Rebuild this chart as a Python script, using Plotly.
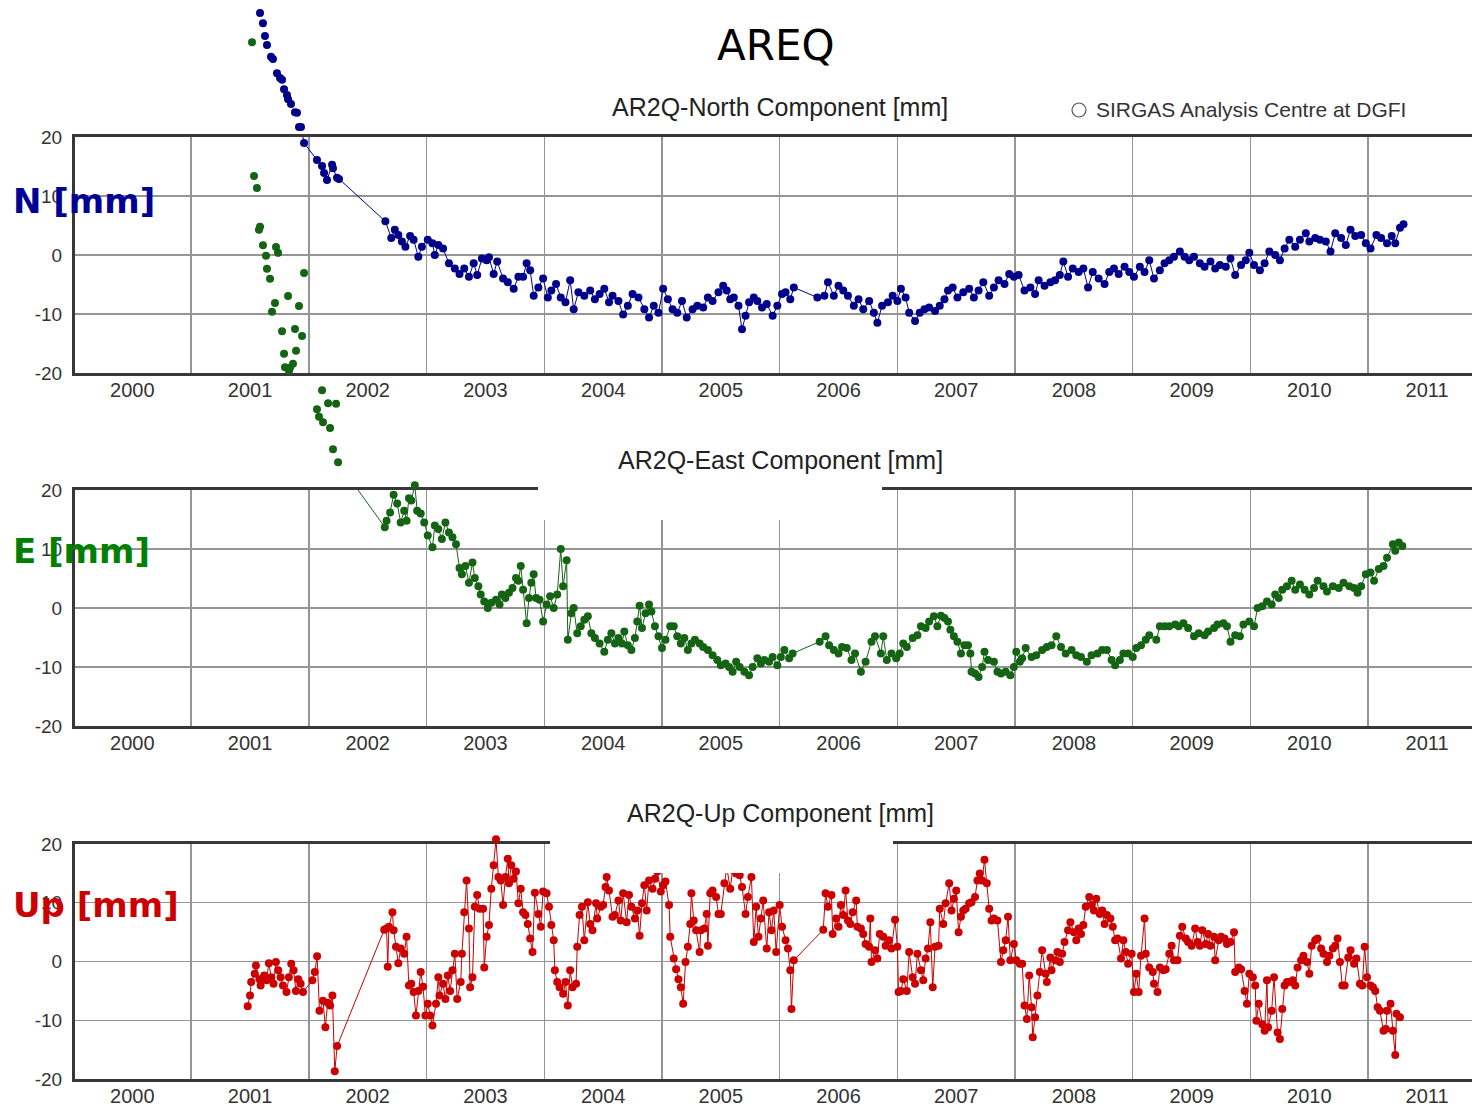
import plotly.graph_objects as go

# ---------------------------------------------------------------------------
# AREQ station, AR2Q solution: weekly coordinate residuals (decimal year, mm)
# ---------------------------------------------------------------------------
north_pts = [
    (2001.085, 41.0), (2001.110, 39.3), (2001.127, 37.1), (2001.144, 35.6), (2001.178, 33.6),
    (2001.195, 33.2), (2001.229, 30.8), (2001.255, 30.0), (2001.272, 29.7), (2001.289, 28.1),
    (2001.314, 27.1), (2001.323, 26.4), (2001.348, 25.6), (2001.382, 24.2), (2001.399, 24.1),
    (2001.416, 21.7), (2001.433, 21.7), (2001.459, 19.0), (2001.569, 16.1), (2001.612, 15.1),
    (2001.629, 13.9), (2001.654, 12.7), (2001.697, 15.3), (2001.705, 14.7), (2001.739, 13.1),
    (2001.756, 12.9),
    (2002.15, 5.7), (2002.20, 2.9), (2002.23, 4.3), (2002.26, 3.4), (2002.29, 2.3),
    (2002.32, 1.4), (2002.36, 3.2), (2002.39, 2.6), (2002.43, -0.3), (2002.46, 1.4),
    (2002.51, 2.6), (2002.55, 2.0), (2002.57, 0.0), (2002.60, 1.7), (2002.64, 1.1),
    (2002.69, -1.4), (2002.74, -2.3), (2002.78, -3.2), (2002.82, -2.3), (2002.86, -3.7),
    (2002.90, -1.4), (2002.93, -3.4), (2002.97, -0.6), (2003.01, -0.9), (2003.03, -0.4),
    (2003.07, -3.2), (2003.10, -1.1), (2003.15, -4.0), (2003.19, -4.6), (2003.24, -5.7),
    (2003.28, -3.7), (2003.32, -3.7), (2003.35, -1.4), (2003.38, -2.6), (2003.41, -6.9),
    (2003.45, -5.5), (2003.49, -4.0), (2003.53, -7.2), (2003.56, -6.0), (2003.60, -4.9),
    (2003.64, -7.2), (2003.68, -8.0), (2003.72, -4.3), (2003.75, -9.2), (2003.79, -6.3),
    (2003.84, -6.9), (2003.89, -6.0), (2003.93, -7.5), (2003.97, -6.6), (2004.01, -5.7),
    (2004.05, -8.0), (2004.08, -6.9), (2004.13, -7.8), (2004.17, -10.1), (2004.21, -8.6),
    (2004.25, -6.6), (2004.30, -7.2), (2004.35, -9.2), (2004.39, -10.6), (2004.43, -8.6),
    (2004.47, -9.8), (2004.51, -5.7), (2004.55, -7.5), (2004.59, -9.2), (2004.63, -9.8),
    (2004.67, -7.8), (2004.71, -10.6), (2004.76, -9.2), (2004.80, -8.6), (2004.85, -8.9),
    (2004.89, -7.2), (2004.93, -7.8), (2004.98, -6.3), (2005.02, -5.2), (2005.05, -6.0),
    (2005.08, -7.5), (2005.11, -7.2), (2005.15, -8.6), (2005.18, -12.6), (2005.21, -10.3),
    (2005.24, -8.0), (2005.28, -7.2), (2005.31, -7.8), (2005.35, -8.9), (2005.39, -8.3),
    (2005.44, -10.3), (2005.48, -8.6), (2005.52, -6.6), (2005.55, -6.3), (2005.59, -7.5),
    (2005.62, -5.5), (2005.82, -7.2), (2005.88, -6.9), (2005.91, -4.6), (2005.96, -6.9),
    (2006.00, -5.2), (2006.04, -6.0), (2006.08, -6.9), (2006.13, -8.6), (2006.17, -7.5),
    (2006.21, -9.2), (2006.26, -7.8), (2006.30, -9.8), (2006.33, -11.5), (2006.37, -8.6),
    (2006.42, -8.0), (2006.46, -6.9), (2006.50, -7.8), (2006.53, -5.7), (2006.57, -7.2),
    (2006.60, -9.8), (2006.65, -11.2), (2006.69, -9.8), (2006.73, -9.2), (2006.77, -8.9),
    (2006.82, -9.5), (2006.86, -8.6), (2006.90, -7.5), (2006.93, -6.0), (2006.97, -5.5),
    (2007.01, -7.2), (2007.06, -6.3), (2007.11, -5.7), (2007.15, -7.2), (2007.19, -6.0),
    (2007.23, -4.6), (2007.28, -6.9), (2007.32, -5.5), (2007.36, -4.3), (2007.41, -4.9),
    (2007.45, -3.2), (2007.49, -3.7), (2007.53, -3.4), (2007.58, -6.0), (2007.63, -5.5),
    (2007.67, -6.6), (2007.70, -4.3), (2007.75, -5.2), (2007.80, -4.6), (2007.84, -4.3),
    (2007.88, -3.4), (2007.91, -1.1), (2007.95, -3.7), (2007.99, -2.3), (2008.04, -2.9),
    (2008.08, -2.3), (2008.12, -5.5), (2008.16, -2.9), (2008.21, -4.0), (2008.26, -4.9),
    (2008.30, -2.9), (2008.34, -2.3), (2008.38, -3.2), (2008.43, -2.0), (2008.47, -2.9),
    (2008.51, -3.7), (2008.56, -2.0), (2008.60, -2.9), (2008.64, -0.9), (2008.68, -4.0),
    (2008.73, -2.6), (2008.77, -1.4), (2008.81, -0.9), (2008.85, -0.3), (2008.90, 0.6),
    (2008.94, -0.3), (2008.98, -0.9), (2009.02, -0.3), (2009.07, -1.4), (2009.11, -2.0),
    (2009.16, -1.1), (2009.20, -2.3), (2009.24, -1.7), (2009.29, -2.0), (2009.33, -0.6),
    (2009.37, -3.4), (2009.42, -1.7), (2009.46, -0.9), (2009.49, 0.4), (2009.53, -1.7),
    (2009.58, -2.6), (2009.62, -1.4), (2009.66, 0.6), (2009.71, 0.0), (2009.75, -0.9),
    (2009.79, 1.1), (2009.83, 2.6), (2009.88, 1.4), (2009.92, 2.6), (2009.97, 3.7),
    (2010.00, 2.3), (2010.05, 2.9), (2010.09, 2.6), (2010.14, 2.3), (2010.18, 0.6),
    (2010.22, 3.7), (2010.27, 2.9), (2010.31, 1.7), (2010.35, 4.3), (2010.39, 3.2),
    (2010.44, 3.4), (2010.48, 2.0), (2010.52, 1.1), (2010.57, 3.4), (2010.61, 2.9),
    (2010.66, 2.0), (2010.70, 3.2), (2010.73, 2.0), (2010.77, 4.6), (2010.80, 5.2),
]

east_pts = [
    (2001.017, 95.9), (2001.034, 73.2), (2001.059, 71.2), (2001.076, 64.1), (2001.085, 64.6),
    (2001.110, 61.5), (2001.136, 59.7), (2001.144, 57.5), (2001.170, 55.8), (2001.187, 50.2),
    (2001.212, 51.7), (2001.221, 61.2), (2001.238, 60.2), (2001.272, 46.9), (2001.289, 43.1),
    (2001.297, 40.8), (2001.323, 52.9), (2001.331, 40.2), (2001.340, 40.7), (2001.365, 41.4),
    (2001.382, 47.3), (2001.391, 43.6), (2001.416, 51.2), (2001.442, 46.1), (2001.459, 56.8),
    (2001.569, 33.7), (2001.586, 32.4), (2001.612, 36.9), (2001.620, 31.5), (2001.663, 34.7),
    (2001.680, 30.5), (2001.705, 26.9), (2001.731, 34.6), (2001.748, 24.7),
    (2002.145, 13.7), (2002.16, 14.8), (2002.19, 16.2), (2002.22, 19.2), (2002.25, 17.7),
    (2002.28, 14.5), (2002.31, 16.5), (2002.33, 14.8), (2002.35, 18.6), (2002.37, 18.2),
    (2002.40, 20.8), (2002.42, 16.5), (2002.45, 16.0), (2002.48, 14.5), (2002.51, 12.3),
    (2002.55, 10.3), (2002.57, 14.0), (2002.60, 13.4), (2002.63, 11.7), (2002.66, 14.5),
    (2002.69, 12.8), (2002.72, 12.0), (2002.75, 10.8), (2002.78, 6.8), (2002.80, 5.7),
    (2002.83, 7.1), (2002.86, 4.3), (2002.89, 7.7), (2002.91, 5.1), (2002.94, 3.7),
    (2002.96, 2.3), (2002.99, 1.1), (2003.02, 0.0), (2003.05, 0.9), (2003.09, 1.4),
    (2003.12, 0.6), (2003.14, 2.3), (2003.17, 1.7), (2003.20, 2.6), (2003.23, 3.4),
    (2003.26, 5.1), (2003.28, 4.6), (2003.30, 7.1), (2003.32, 3.1), (2003.35, -2.6),
    (2003.37, 1.7), (2003.39, 4.3), (2003.41, 5.7), (2003.43, 1.7), (2003.46, 1.4),
    (2003.49, -2.3), (2003.52, 0.6), (2003.55, 2.0), (2003.58, 0.0), (2003.61, 2.3),
    (2003.64, 10.0), (2003.66, 3.7), (2003.69, 8.1), (2003.70, -5.4), (2003.73, -0.9),
    (2003.75, 0.0), (2003.78, -4.3), (2003.81, -3.1), (2003.84, -2.0), (2003.87, -1.4),
    (2003.90, -4.3), (2003.93, -5.1), (2003.97, -6.0), (2004.01, -7.4), (2004.04, -5.4),
    (2004.07, -4.3), (2004.10, -6.0), (2004.13, -5.1), (2004.16, -6.0), (2004.18, -4.0),
    (2004.21, -6.3), (2004.24, -7.1), (2004.27, -5.1), (2004.29, -2.3), (2004.31, 0.4),
    (2004.33, -3.4), (2004.36, -0.9), (2004.39, 0.6), (2004.41, -0.6), (2004.44, -3.1),
    (2004.47, -4.8), (2004.50, -6.8), (2004.53, -5.4), (2004.57, -3.1), (2004.60, -3.1),
    (2004.63, -4.8), (2004.66, -6.0), (2004.69, -5.1), (2004.72, -7.1), (2004.75, -6.0),
    (2004.78, -5.4), (2004.82, -6.0), (2004.85, -6.6), (2004.89, -7.1), (2004.93, -8.0),
    (2004.97, -8.8), (2005.00, -9.7), (2005.04, -9.4), (2005.07, -10.0), (2005.10, -10.8),
    (2005.13, -9.1), (2005.16, -10.0), (2005.20, -10.8), (2005.24, -11.4), (2005.27, -10.0),
    (2005.31, -8.5), (2005.34, -9.4), (2005.37, -8.8), (2005.41, -9.1), (2005.44, -8.3),
    (2005.48, -9.7), (2005.51, -8.3), (2005.54, -7.1), (2005.58, -8.5), (2005.61, -7.7),
    (2005.84, -5.7), (2005.89, -4.8), (2005.92, -6.3), (2005.96, -7.1), (2006.00, -7.7),
    (2006.03, -6.6), (2006.07, -6.8), (2006.11, -8.8), (2006.14, -7.7), (2006.19, -10.8),
    (2006.23, -9.1), (2006.28, -5.7), (2006.31, -4.8), (2006.36, -7.7), (2006.38, -4.8),
    (2006.41, -8.8), (2006.45, -7.7), (2006.49, -8.5), (2006.52, -7.7), (2006.55, -6.0),
    (2006.58, -6.6), (2006.63, -5.1), (2006.67, -4.6), (2006.70, -3.1), (2006.74, -3.4),
    (2006.77, -2.3), (2006.81, -1.4), (2006.84, -3.1), (2006.87, -1.3), (2006.90, -1.7),
    (2006.93, -2.3), (2006.95, -3.7), (2006.98, -4.8), (2007.01, -5.7), (2007.04, -7.7),
    (2007.07, -6.3), (2007.10, -6.3), (2007.12, -7.7), (2007.13, -10.8), (2007.16, -11.1),
    (2007.19, -11.7), (2007.22, -10.0), (2007.24, -7.4), (2007.27, -8.8), (2007.32, -9.1),
    (2007.35, -10.8), (2007.38, -11.1), (2007.42, -10.8), (2007.46, -11.4), (2007.49, -10.0),
    (2007.51, -7.4), (2007.54, -9.1), (2007.56, -8.5), (2007.59, -6.8), (2007.64, -8.3),
    (2007.68, -8.0), (2007.73, -7.1), (2007.77, -6.6), (2007.81, -6.3), (2007.85, -4.8),
    (2007.89, -6.6), (2007.93, -7.7), (2007.98, -7.1), (2008.02, -8.0), (2008.06, -8.3),
    (2008.11, -9.1), (2008.15, -8.0), (2008.20, -7.7), (2008.24, -7.1), (2008.28, -7.1),
    (2008.32, -8.8), (2008.35, -9.7), (2008.39, -8.8), (2008.42, -7.7), (2008.46, -7.7),
    (2008.50, -8.3), (2008.53, -6.8), (2008.57, -6.3), (2008.61, -5.4), (2008.64, -4.6),
    (2008.70, -5.4), (2008.73, -3.1), (2008.77, -3.1), (2008.81, -3.1), (2008.86, -2.8),
    (2008.89, -3.1), (2008.93, -2.6), (2008.97, -3.4), (2009.02, -4.8), (2009.06, -4.3),
    (2009.11, -4.6), (2009.14, -4.0), (2009.19, -3.4), (2009.22, -2.8), (2009.27, -2.6),
    (2009.30, -3.1), (2009.33, -5.7), (2009.37, -4.6), (2009.41, -4.8), (2009.44, -2.8),
    (2009.49, -2.3), (2009.53, -3.1), (2009.56, 0.0), (2009.60, 0.3), (2009.64, 1.1),
    (2009.68, 0.6), (2009.71, 2.3), (2009.74, 1.7), (2009.77, 3.1), (2009.81, 3.7),
    (2009.85, 4.6), (2009.88, 3.1), (2009.92, 4.0), (2009.96, 3.1), (2010.00, 2.3),
    (2010.04, 3.4), (2010.07, 4.6), (2010.12, 3.7), (2010.15, 2.8), (2010.20, 3.7),
    (2010.25, 3.4), (2010.29, 4.3), (2010.34, 3.7), (2010.38, 3.4), (2010.41, 2.6),
    (2010.44, 3.7), (2010.48, 5.7), (2010.52, 6.0), (2010.55, 4.6), (2010.59, 6.6),
    (2010.63, 7.1), (2010.66, 8.5), (2010.71, 10.8), (2010.73, 9.7), (2010.76, 11.1),
    (2010.79, 10.5),
]

up_pts = [
    (2000.98, -7.6), (2001.00, -5.8), (2001.01, -3.5), (2001.04, -2.1), (2001.05, -0.7),
    (2001.08, -3.0), (2001.09, -4.1), (2001.12, -2.4), (2001.14, -3.2), (2001.16, -0.3),
    (2001.18, -2.7), (2001.20, -3.8), (2001.22, -0.1), (2001.24, -1.5), (2001.26, -2.7),
    (2001.28, -4.1), (2001.31, -5.2), (2001.33, -2.7), (2001.35, -0.4), (2001.37, -1.5),
    (2001.39, -5.0), (2001.41, -3.0), (2001.43, -3.8), (2001.45, -5.2), (2001.53, -3.2),
    (2001.55, -1.8), (2001.57, 0.9), (2001.59, -8.4), (2001.62, -6.7), (2001.64, -11.2),
    (2001.66, -7.0), (2001.68, -7.5), (2001.70, -5.8), (2001.72, -18.7), (2001.74, -14.4),
    (2002.14, 5.4), (2002.16, 5.6), (2002.17, -0.9), (2002.18, 5.9), (2002.21, 8.4),
    (2002.22, 5.3), (2002.24, 2.5), (2002.26, -0.3), (2002.28, 2.2), (2002.31, 1.3),
    (2002.33, 4.2), (2002.35, -4.1), (2002.37, -3.8), (2002.39, -5.2), (2002.41, -9.2),
    (2002.43, -5.0), (2002.45, -1.8), (2002.47, -4.3), (2002.49, -9.2), (2002.51, -7.2),
    (2002.53, -9.2), (2002.55, -10.9), (2002.58, -7.2), (2002.60, -2.7), (2002.61, -5.8),
    (2002.64, -3.8), (2002.66, -6.4), (2002.68, -2.4), (2002.70, -5.0), (2002.72, -1.5),
    (2002.74, 1.3), (2002.76, -6.4), (2002.79, -3.5), (2002.80, 1.3), (2002.82, 8.4),
    (2002.84, 13.8), (2002.86, 5.6), (2002.87, -4.4), (2002.89, -2.7), (2002.91, 9.3),
    (2002.93, 11.3), (2002.95, 9.0), (2002.98, 9.0), (2002.99, -1.0), (2003.01, 4.2),
    (2003.03, 6.2), (2003.05, 12.4), (2003.07, 16.4), (2003.09, 20.8), (2003.11, 14.4),
    (2003.13, 13.8), (2003.15, 9.6), (2003.17, 14.4), (2003.19, 17.5), (2003.20, 13.3),
    (2003.22, 16.4), (2003.24, 14.1), (2003.26, 15.3), (2003.28, 9.9), (2003.30, 12.4),
    (2003.32, 8.4), (2003.34, 7.9), (2003.36, 6.4), (2003.38, 3.9), (2003.40, 1.6),
    (2003.42, 11.7), (2003.45, 8.1), (2003.47, 5.9), (2003.49, 11.9), (2003.52, 11.6),
    (2003.54, 9.3), (2003.56, 6.2), (2003.58, 3.6), (2003.59, -1.5), (2003.61, -3.5),
    (2003.63, -4.4), (2003.66, -5.5), (2003.68, -3.5), (2003.70, -7.5), (2003.72, -1.5),
    (2003.74, -4.4), (2003.77, -3.8), (2003.78, 2.5), (2003.80, 7.9), (2003.82, 9.3),
    (2003.84, 3.6), (2003.87, 10.1), (2003.89, 6.4), (2003.91, 5.3), (2003.94, 9.9),
    (2003.95, 7.3), (2003.98, 9.3), (2004.00, 9.6), (2004.02, 12.7), (2004.03, 14.4),
    (2004.05, 12.1), (2004.08, 7.6), (2004.10, 7.9), (2004.13, 10.4), (2004.15, 7.0),
    (2004.17, 11.6), (2004.20, 6.7), (2004.22, 11.3), (2004.24, 9.3), (2004.27, 7.3),
    (2004.29, 8.7), (2004.31, 4.4), (2004.33, 9.9), (2004.35, 13.0), (2004.37, 8.7),
    (2004.39, 13.8), (2004.42, 12.4), (2004.44, 14.1), (2004.46, 15.3), (2004.49, 11.9),
    (2004.51, 13.0), (2004.53, 13.6), (2004.56, 9.6), (2004.57, 4.2), (2004.60, 0.5),
    (2004.62, -1.3), (2004.64, -3.0), (2004.66, -4.4), (2004.68, -7.2), (2004.70, -0.1),
    (2004.72, 2.5), (2004.74, 6.4), (2004.75, 11.6), (2004.77, 7.0), (2004.79, 5.3),
    (2004.82, 1.6), (2004.83, 5.3), (2004.86, 5.6), (2004.88, 8.1), (2004.89, 2.7),
    (2004.91, 11.6), (2004.93, 12.1), (2004.96, 11.0), (2004.98, 8.1), (2005.00, 8.1),
    (2005.03, 13.3), (2005.05, 16.1), (2005.08, 12.4), (2005.10, 15.6), (2005.13, 15.0),
    (2005.16, 14.7), (2005.18, 12.7), (2005.21, 8.1), (2005.23, 11.0), (2005.26, 14.4),
    (2005.28, 3.3), (2005.30, 9.3), (2005.32, 4.2), (2005.34, 7.3), (2005.36, 10.4),
    (2005.39, 2.2), (2005.41, 8.4), (2005.43, 5.3), (2005.45, 8.7), (2005.47, 1.6),
    (2005.50, 9.6), (2005.52, 5.9), (2005.55, 3.6), (2005.57, 2.2), (2005.59, -1.5),
    (2005.60, -8.1), (2005.62, 0.2),
    (2005.87, 5.4), (2005.89, 11.6), (2005.91, 9.3), (2005.94, 11.3), (2005.95, 4.7),
    (2005.98, 7.3), (2006.00, 5.9), (2006.02, 9.6), (2006.04, 7.9), (2006.06, 12.1),
    (2006.08, 7.0), (2006.10, 6.4), (2006.12, 8.4), (2006.15, 10.4), (2006.16, 5.9),
    (2006.19, 5.6), (2006.21, 4.7), (2006.23, 3.0), (2006.26, 2.5), (2006.27, 7.3),
    (2006.28, -0.1), (2006.31, 1.9), (2006.33, 0.5), (2006.35, 4.7), (2006.38, 4.2),
    (2006.40, 2.7), (2006.43, 3.6), (2006.45, 2.2), (2006.48, 7.1), (2006.50, 2.5),
    (2006.51, -5.2), (2006.53, -5.0), (2006.55, -3.0), (2006.58, -5.0), (2006.60, 1.6),
    (2006.63, -2.7), (2006.65, -3.8), (2006.67, 1.3), (2006.70, -1.5), (2006.72, -3.2),
    (2006.74, 0.5), (2006.76, 2.2), (2006.78, 6.7), (2006.80, -4.4), (2006.82, 2.5),
    (2006.85, 2.7), (2006.86, 9.0), (2006.89, 6.4), (2006.91, 9.9), (2006.94, 13.3),
    (2006.96, 8.7), (2006.98, 10.7), (2007.00, 12.1), (2007.02, 5.0), (2007.04, 7.6),
    (2007.06, 8.7), (2007.08, 9.0), (2007.11, 9.9), (2007.13, 10.1), (2007.16, 11.0),
    (2007.18, 13.8), (2007.20, 15.0), (2007.22, 13.8), (2007.24, 17.3), (2007.26, 13.3),
    (2007.28, 9.0), (2007.30, 7.0), (2007.32, 7.3), (2007.35, 7.0), (2007.38, -0.1),
    (2007.40, 1.9), (2007.42, 3.6), (2007.44, 7.6), (2007.46, 0.2), (2007.49, 3.0),
    (2007.51, 0.2), (2007.54, -0.4), (2007.56, -0.4), (2007.58, -7.5), (2007.60, -9.8),
    (2007.62, -2.4), (2007.64, -7.8), (2007.65, -12.9), (2007.67, -9.5), (2007.69, -5.8),
    (2007.71, -1.8), (2007.73, 1.9), (2007.76, -2.1), (2007.77, -3.5), (2007.80, 0.7),
    (2007.81, -1.5), (2007.84, 0.2), (2007.86, 1.6), (2007.88, -0.1), (2007.90, 1.3),
    (2007.92, 3.3), (2007.95, 5.3), (2007.97, 6.7), (2008.00, 5.0), (2008.02, 3.6),
    (2008.04, 5.6), (2008.06, 4.7), (2008.08, 6.2), (2008.10, 9.3), (2008.13, 11.0),
    (2008.15, 9.6), (2008.17, 8.7), (2008.19, 10.7), (2008.22, 8.1), (2008.24, 8.7),
    (2008.26, 6.4), (2008.28, 7.9), (2008.31, 7.3), (2008.33, 5.9), (2008.35, 3.6),
    (2008.37, 3.9), (2008.40, 0.5), (2008.42, 3.6), (2008.44, 1.6), (2008.46, -0.4),
    (2008.49, 1.3), (2008.51, -5.2), (2008.53, -2.1), (2008.55, -5.2), (2008.57, 1.0),
    (2008.60, 7.3), (2008.61, 1.3), (2008.64, -1.0), (2008.67, -1.8), (2008.68, -3.8),
    (2008.71, -5.2), (2008.73, -1.0), (2008.76, -1.5), (2008.78, -1.3), (2008.81, 1.3),
    (2008.83, 2.7), (2008.85, 0.2), (2008.88, 0.2), (2008.90, 4.4), (2008.92, 5.9),
    (2008.95, 3.9), (2008.97, 3.3), (2009.00, 2.7), (2009.03, 5.6), (2009.05, 3.3),
    (2009.07, 2.7), (2009.09, 5.3), (2009.12, 3.0), (2009.14, 4.7), (2009.16, 2.7),
    (2009.19, 4.2), (2009.20, 0.2), (2009.23, 3.6), (2009.25, 4.2), (2009.28, 3.9),
    (2009.30, 3.0), (2009.33, 3.3), (2009.36, 5.0), (2009.37, -1.8), (2009.40, -1.0),
    (2009.42, -1.3), (2009.45, -5.0), (2009.47, -7.2), (2009.49, -2.1), (2009.52, -2.7),
    (2009.54, -4.1), (2009.55, -10.1), (2009.57, -7.2), (2009.60, -10.7), (2009.62, -11.8),
    (2009.64, -3.2), (2009.65, -11.2), (2009.68, -8.4), (2009.70, -2.7), (2009.73, -12.1),
    (2009.75, -13.2), (2009.77, -8.1), (2009.79, -4.1), (2009.81, -3.5), (2009.83, -3.5),
    (2009.86, -3.2), (2009.88, -4.1), (2009.90, -1.0), (2009.93, 0.2), (2009.95, 1.0),
    (2009.98, -0.1), (2010.00, -2.1), (2010.02, 2.7), (2010.05, 3.6), (2010.07, 3.9),
    (2010.10, 2.2), (2010.12, 1.3), (2010.15, -0.1), (2010.17, 1.0), (2010.20, 2.2),
    (2010.22, 2.7), (2010.24, 3.9), (2010.26, -0.1), (2010.28, -4.1), (2010.30, -4.1),
    (2010.33, 0.7), (2010.35, 1.9), (2010.38, -0.4), (2010.40, 0.5), (2010.43, -3.8),
    (2010.45, -4.1), (2010.47, 2.5), (2010.49, -2.7), (2010.52, -4.1), (2010.54, -4.4),
    (2010.56, -5.0), (2010.58, -7.8), (2010.60, -8.4), (2010.63, -11.8), (2010.65, -11.5),
    (2010.66, -8.4), (2010.69, -7.2), (2010.71, -11.8), (2010.73, -15.9), (2010.74, -8.9),
    (2010.77, -9.5),
]

year_ticks = list(range(2000, 2012))
half_years = [y + 0.5 for y in range(2000, 2011)]
mm_ticks = [-20, -10, 0, 10, 20]
mm_labels = ["-20", "-10", "0", "10", "20"]

# ---------------------------------------------------------------------------
# page geometry (pixels of the 1472 x 1107 page, y measured from the top)
# ---------------------------------------------------------------------------
W, H = 1472, 1107


def fx(px):
    return px / W


def fy(py):
    return 1 - py / H


X_RANGE = [1999.513, 2011.382]
PLOT_LEFT = 75

panels = [
    dict(key="", title="AR2Q-North Component [mm]", top=137, bottom=373,
         color="#00008b", label="N [mm]", label_color="#000096", label_y=201, title_y=107,
         pts=north_pts, box=None),
    dict(key="2", title="AR2Q-East Component [mm]", top=490, bottom=726,
         color="#146414", label="E [mm]", label_color="#008000", label_y=551, title_y=460,
         pts=east_pts, box=(538, 882, 440, 520)),
    dict(key="3", title="AR2Q-Up Component [mm]", top=844, bottom=1079,
         color="#cc0000", label="Up [mm]", label_color="#cc0000", label_y=905, title_y=813,
         pts=up_pts, box=(550, 893, 792, 873)),
]
# full-page marker axes (one per component) so that dots that run past a
# panel's frame stay visible, as in the original plots
marker_axes = ["4", "5", "6"]

X_TICK_FONT = dict(family="Liberation Sans, Arial, sans-serif", size=20, color="#333333")
Y_TICK_FONT = dict(family="Liberation Sans, Arial, sans-serif", size=19, color="#333333")
GRID = "#959595"
FRAME = "#383838"


def page_range(top, bottom):
    """mm range of a full-page axis that shares the scale of a panel."""
    per_mm = (bottom - top) / 40.0
    return [-20 - (H - bottom) / per_mm, 20 + top / per_mm]


fig = go.Figure()
layout = dict(
    width=W, height=H,
    margin=dict(l=0, r=0, t=0, b=0, pad=0, autoexpand=False),
    paper_bgcolor="white", plot_bgcolor="rgba(0,0,0,0)",
    showlegend=False,
)
annotations = []
shapes = []

for p in panels:
    k = p["key"]
    t = [a for a, _ in p["pts"]]
    v = [b for _, b in p["pts"]]
    # connecting line, clipped to the panel
    fig.add_trace(go.Scatter(
        x=t, y=v, mode="lines",
        line=dict(color=p["color"], width=1),
        xaxis="x" + k, yaxis="y" + k, hoverinfo="skip",
    ))
    layout["xaxis" + k] = dict(
        domain=[fx(PLOT_LEFT), 1], range=X_RANGE, anchor="y" + k, automargin=False,
        tickmode="array", tickvals=year_ticks, ticktext=[str(y) for y in year_ticks],
        showgrid=False, zeroline=False, ticks="",
        minor=dict(tickmode="array", tickvals=half_years, showgrid=True,
                   gridcolor=GRID, gridwidth=1.4, ticks=""),
        showline=True, mirror=True, linecolor=FRAME, linewidth=3,
        tickfont=X_TICK_FONT, ticklabelstandoff=-3, fixedrange=True,
    )
    layout["yaxis" + k] = dict(
        domain=[fy(p["bottom"]), fy(p["top"])], range=[-20, 20], anchor="x" + k,
        automargin=False,
        tickmode="array", tickvals=mm_ticks, ticktext=mm_labels,
        showgrid=True, gridcolor=GRID, gridwidth=1.4,
        zeroline=False, ticks="", showline=True, mirror=False,
        linecolor=FRAME, linewidth=3,
        tickfont=Y_TICK_FONT, ticklabelstandoff=6, fixedrange=True,
    )
    if p["box"]:
        x0, x1, y0, y1 = p["box"]
        shapes.append(dict(type="rect", xref="paper", yref="paper", layer="above",
                           x0=fx(x0), x1=fx(x1), y0=fy(y1), y1=fy(y0),
                           fillcolor="white", line=dict(width=0)))
    annotations.append(dict(
        text=p["title"], xref="paper", yref="paper", x=fx(780), y=fy(p["title_y"]),
        xanchor="center", yanchor="middle", showarrow=False,
        font=dict(family="Liberation Sans, Arial, sans-serif", size=25, color="#222222"),
    ))
    annotations.append(dict(
        text="<b>" + p["label"] + "</b>", xref="paper", yref="paper",
        x=fx(11), y=fy(p["label_y"]), xanchor="left", yanchor="middle", showarrow=False,
        font=dict(family="DejaVu Sans, sans-serif", size=34, color=p["label_color"]),
    ))

# the dots themselves, on full-page axes
layout["xaxis4"] = dict(domain=[fx(PLOT_LEFT), 1], range=X_RANGE, anchor="y4",
                        visible=False, automargin=False, fixedrange=True)
for p, mk in zip(panels, marker_axes):
    t = [a for a, _ in p["pts"]]
    v = [b for _, b in p["pts"]]
    fig.add_trace(go.Scatter(
        x=t, y=v, mode="markers",
        marker=dict(color=p["color"], size=8, line=dict(width=0)),
        xaxis="x4", yaxis="y" + mk, hoverinfo="skip",
    ))
    ax = dict(domain=[0, 1], range=page_range(p["top"], p["bottom"]), anchor="x4",
              visible=False, automargin=False, fixedrange=True)
    if mk != "4":
        ax["overlaying"] = "y4"
    layout["yaxis" + mk] = ax

annotations.append(dict(
    text="AREQ", xref="paper", yref="paper", x=fx(776), y=fy(45),
    xanchor="center", yanchor="middle", showarrow=False,
    font=dict(family="DejaVu Sans, sans-serif", size=42, color="black"),
))
annotations.append(dict(
    text="SIRGAS Analysis Centre at DGFI", xref="paper", yref="paper",
    x=fx(1094), y=fy(110), xanchor="left", yanchor="middle", showarrow=False,
    font=dict(family="Liberation Sans, Arial, sans-serif", size=21, color="#333333"),
))
shapes.append(dict(type="circle", xref="paper", yref="paper",
                   x0=fx(1072), x1=fx(1086), y0=fy(117), y1=fy(103),
                   line=dict(color="#555555", width=1.2), fillcolor="rgba(0,0,0,0)"))

layout["annotations"] = annotations
layout["shapes"] = shapes
fig.update_layout(**layout)

fig.write_html("out.html", config={"displayModeBar": False, "staticPlot": True})
